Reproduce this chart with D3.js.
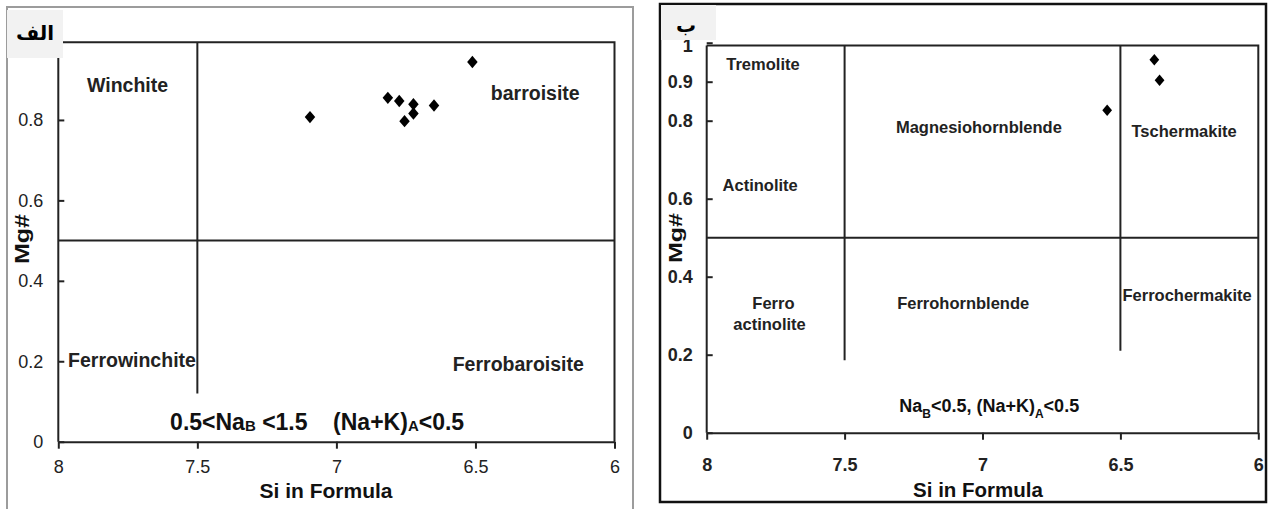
<!DOCTYPE html>
<html lang="en">
<head>
<meta charset="UTF-8">
<title>Amphibole classification</title>
<script src="https://d3js.org/d3.v7.min.js"></script>
<style>
    html, body { margin: 0; padding: 0; background: #fff; }
    svg { display: block; font-family: "Liberation Sans", Arial, sans-serif; }
    .field { font-weight: bold; fill: #222; }
    .cond { font-weight: bold; fill: #111; white-space: pre; }
    .title { font-weight: bold; fill: #111; }
    .tag { font-family: "DejaVu Sans", sans-serif; font-weight: bold; fill: #000; }
</style>
</head>
<body>
<svg id="chart" width="1270" height="509"></svg>
<script>
    // axis ticks
    const xTicks = [8, 7.5, 7, 6.5, 6];
    const yTicksA = [0, 0.2, 0.4, 0.6, 0.8];
    const yTicksB = [0, 0.2, 0.4, 0.6, 0.8, 0.9, 1];

    // samples, panel A (0.5<NaB<1.5)
    const siA = [7.095, 6.815, 6.774, 6.723, 6.723, 6.755, 6.649, 6.511];
    const mgA = [0.807, 0.855, 0.847, 0.839, 0.816, 0.797, 0.836, 0.944];

    // samples, panel B (NaB<0.5)
    const siB = [6.548, 6.377, 6.358];
    const mgB = [0.827, 0.956, 0.904];

    // field boundaries
    const mgSplit = 0.5;
    const siSplitsA = [7.5];
    const siSplitsEndA = [0.12];
    const siSplitsB = [7.5, 6.5];
    const siSplitsEndB = [0.186, 0.21];

    // field names
    const fieldsA = ["Winchite", "barroisite", "Ferrowinchite", "Ferrobaroisite"];
    const fieldsB = ["Tremolite", "Actinolite", "Magnesiohornblende", "Tschermakite",
                     "Ferro", "actinolite", "Ferrohornblende", "Ferrochermakite"];

    const svg = d3.select("#chart");

    // little diamond marker, a bit taller than wide
    const diamond = {
        draw(ctx, size) {
            const r = Math.sqrt(size) / 2;
            ctx.moveTo(0, -r * 1.18);
            ctx.lineTo(r, 0);
            ctx.lineTo(0, r * 1.18);
            ctx.lineTo(-r, 0);
            ctx.closePath();
        }
    };

    drawPanel({
        frame: { x: 7, y: 7, w: 626, h: 512, stroke: "#9c9c9c", sw: 2 },
        box: { x: 7, y: 10, w: 56, h: 48, label: "الف", tx: 35, ty: 40 },
        x0: 58.3, x1: 614.5, y0: 441.7, y1: 39.5,
        yTicks: yTicksA, tickWeight: "normal",
        yPad: 15, xPad: 11.5,
        splits: siSplitsA, splitEnds: siSplitsEndA,
        si: siA, mg: mgA, markSize: 110,
        fields: fieldsA, fieldSize: 19.5,
        fieldPos: [[7.751, 0.869, "middle"], [6.285, 0.850, "middle"],
                   [7.965, 0.186, "start"], [6.346, 0.1765, "middle"]],
        cond: { si: 7.598, mg: 0.029, size: 23, sub: 15, subDy: 1,
                parts: ["0.5<Na", "B", " <1.5    (Na+K)", "A", "<0.5"] },
        title: { x: 326, y: 498, size: 21 },
        ylab: { x: 22, y: 239, size: 20, len: 50 }
    });

    drawPanel({
        frame: { x: 660, y: 4, w: 606, h: 498, stroke: "#111", sw: 2.5 },
        box: { x: 661, y: 5, w: 55, h: 35, label: "ب", tx: 686, ty: 32 },
        x0: 706.7, x1: 1258.3, y0: 432.7, y1: 42.7,
        yTicks: yTicksB, tickWeight: "bold",
        yPad: 14, xPad: 19,
        splits: siSplitsB, splitEnds: siSplitsEndB,
        si: siB, mg: mgB, markSize: 95,
        fields: fieldsB, fieldSize: 16.5,
        fieldPos: [[7.796, 0.930, "middle"], [7.806, 0.620, "middle"],
                   [7.013, 0.768, "middle"], [6.269, 0.758, "middle"],
                   [7.758, 0.317, "middle"], [7.772, 0.263, "middle"],
                   [7.070, 0.317, "middle"], [6.258, 0.338, "middle"]],
        cond: { si: 7.302, mg: 0.054, size: 18, sub: 12, subDy: 6,
                parts: ["Na", "B", "<0.5, (Na+K)", "A", "<0.5"] },
        title: { x: 978, y: 497, size: 20.5 },
        ylab: { x: 675, y: 238, size: 19, len: 50 }
    });

    function drawPanel(p) {
        const g = svg.append("g");
        const x = d3.scaleLinear().domain([8, 6]).range([p.x0, p.x1]);
        const y = d3.scaleLinear().domain([0, 1]).range([p.y0, p.y1]);
        const topMg = 0.993;
        const line = "#222";

        g.append("rect")
            .attr("x", p.frame.x).attr("y", p.frame.y)
            .attr("width", p.frame.w).attr("height", p.frame.h)
            .attr("fill", "none")
            .attr("stroke", p.frame.stroke)
            .attr("stroke-width", p.frame.sw);

        // y axis, ticks pointing inward
        const ya = g.append("g")
            .attr("transform", `translate(${p.x0},0)`)
            .call(d3.axisLeft(y).tickValues(p.yTicks).tickFormat(d => d)
                .tickSizeInner(-6).tickSizeOuter(0).tickPadding(p.yPad));
        ya.select(".domain").attr("d", `M0,${y(0)}V${y(topMg)}`);
        // the top label sits just under the tag box, nudged down a little
        ya.selectAll(".tick text").filter(d => d === 1).attr("dy", "0.5em");
        // x axis, ticks pointing down
        const xa = g.append("g")
            .attr("transform", `translate(0,${p.y0})`)
            .call(d3.axisBottom(x).tickValues(xTicks).tickFormat(d => d)
                .tickSizeInner(7).tickSizeOuter(0).tickPadding(p.xPad));

        [ya, xa].forEach(a => {
            a.selectAll("path, line").attr("stroke", line).attr("stroke-width", 2);
            a.selectAll("text")
                .attr("fill", "#222")
                .style("font-family", '"Liberation Sans", Arial, sans-serif')
                .style("font-size", "18px")
                .style("font-weight", p.tickWeight);
        });

        // top and right borders of the plot
        g.append("path")
            .attr("d", `M${x(8)},${y(topMg)}H${x(6)}V${y(0)}`)
            .attr("fill", "none").attr("stroke", line).attr("stroke-width", 2);

        // Mg# = 0.5 boundary
        g.append("line")
            .attr("x1", x(8)).attr("x2", x(6))
            .attr("y1", y(mgSplit)).attr("y2", y(mgSplit))
            .attr("stroke", line).attr("stroke-width", 2);

        // Si boundaries
        g.selectAll(".split")
            .data(p.splits)
            .enter().append("line")
            .attr("x1", d => x(d)).attr("x2", d => x(d))
            .attr("y1", y(topMg))
            .attr("y2", (d, i) => y(p.splitEnds[i]))
            .attr("stroke", line).attr("stroke-width", 2);

        // field names
        g.selectAll(".field")
            .data(p.fields)
            .enter().append("text")
            .attr("class", "field")
            .attr("x", (d, i) => x(p.fieldPos[i][0]))
            .attr("y", (d, i) => y(p.fieldPos[i][1]))
            .attr("text-anchor", (d, i) => p.fieldPos[i][2])
            .style("font-size", p.fieldSize + "px")
            .text(d => d);

        // chemistry condition with subscripts
        const c = g.append("text")
            .attr("class", "cond")
            .attr("x", x(p.cond.si))
            .attr("y", y(p.cond.mg))
            .style("font-size", p.cond.size + "px");
        p.cond.parts.forEach((t, i) => {
            const sub = i % 2 === 1;
            c.append("tspan")
                .attr("dy", sub ? p.cond.subDy : (i > 0 ? -p.cond.subDy : 0))
                .style("font-size", sub ? p.cond.sub + "px" : null)
                .text(t);
        });

        // samples
        g.selectAll(".pt")
            .data(p.si)
            .enter().append("path")
            .attr("d", d3.symbol(diamond, p.markSize))
            .attr("transform", (d, i) => `translate(${x(d)},${y(p.mg[i])})`)
            .attr("fill", "#000");

        g.append("text")
            .attr("class", "title")
            .attr("x", p.title.x).attr("y", p.title.y)
            .attr("text-anchor", "middle")
            .style("font-size", p.title.size + "px")
            .text("Si in Formula");

        g.append("text")
            .attr("class", "title")
            .attr("transform", `translate(${p.ylab.x},${p.ylab.y}) rotate(-90)`)
            .attr("text-anchor", "middle")
            .attr("dy", "0.36em")
            .attr("textLength", p.ylab.len)
            .attr("lengthAdjust", "spacingAndGlyphs")
            .style("font-size", p.ylab.size + "px")
            .text("Mg#");

        // panel tag (Persian letter) on a light box
        g.append("rect")
            .attr("x", p.box.x).attr("y", p.box.y)
            .attr("width", p.box.w).attr("height", p.box.h)
            .attr("fill", "#f2f2f2");
        g.append("text")
            .attr("class", "tag")
            .attr("x", p.box.tx).attr("y", p.box.ty)
            .attr("text-anchor", "middle")
            .style("font-size", "20px")
            .text(p.box.label);
    }
</script>
</body>
</html>
